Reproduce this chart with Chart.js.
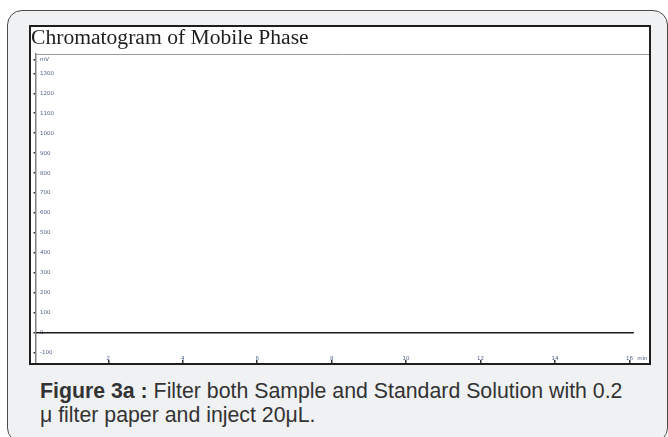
<!DOCTYPE html>
<html>
<head>
<meta charset="utf-8">
<script src="https://cdn.jsdelivr.net/npm/chart.js@4/dist/chart.umd.min.js"></script>
<style>
  html, body { margin: 0; padding: 0; background: #fff; width: 668px; height: 437px; overflow: hidden; }
  .card {
    position: absolute; left: 7px; top: 10px; width: 661px; height: 433px;
    box-sizing: border-box; border: 1.5px solid #4a4a4a; border-radius: 15px;
    background: #f0f1f3;
  }
  .frame {
    position: absolute; left: 29px; top: 25px; width: 622px; height: 340px;
    box-sizing: border-box; border: 2px solid #1e1e1e; background: #fff;
  }
  .frame canvas { display: block; }
  .caption {
    position: absolute; left: 40px; top: 379px;
    font: 21.3px "Liberation Sans", Arial, sans-serif; line-height: 24px; color: #333;
    white-space: nowrap;
  }
  .caption b { font-weight: bold; }
</style>
</head>
<body>
<div class="card"></div>
<div class="frame"><canvas id="chrom" width="618" height="336"></canvas></div>
<div class="caption"><b>Figure 3a :</b> Filter both Sample and Standard Solution with 0.2<br>μ filter paper and inject 20μL.</div>

<script>
// Retention time axis (min) and detector axis (mV)
const xTickValues = [2, 4, 6, 8, 10, 12, 14, 16];
const xUnit = { value: 16.35, label: 'min' };
const yTickValues = [-100, 0, 100, 200, 300, 400, 500, 600, 700, 800, 900, 1000, 1100, 1200, 1300];
const yUnit = { value: 1370, label: 'mV' };

// Mobile phase trace: flat baseline over the run
const retentionTime = [0.06, 16.12];
const signal = [0, 0];

const tickFont = { family: 'DejaVu Sans', size: 5.5 };
const tickColor = '#4f5f86';

// thin grey rule along the top of the plot area
const plotTopEdge = {
  id: 'plotTopEdge',
  afterDraw(chart) {
    const { ctx, chartArea: a } = chart;
    ctx.save();
    ctx.strokeStyle = '#9a9a9a';
    ctx.lineWidth = 1;
    ctx.beginPath();
    ctx.moveTo(a.left, Math.round(a.top) + 0.5);
    ctx.lineTo(chart.width, Math.round(a.top) + 0.5);
    ctx.stroke();
    ctx.restore();
  }
};

new Chart(document.getElementById('chrom'), {
  type: 'line',
  data: {
    datasets: [{
      data: retentionTime.map((t, i) => ({ x: t, y: signal[i] })),
      borderColor: '#1c1c1c',
      borderWidth: 1.6,
      pointRadius: 0,
      tension: 0,
      fill: false
    }]
  },
  options: {
    responsive: false,
    animation: false,
    devicePixelRatio: 1,
    layout: { padding: { top: 0, left: 0, right: 1, bottom: 0 } },
    plugins: {
      legend: { display: false },
      tooltip: { enabled: false },
      title: {
        display: true,
        text: 'Chromatogram of Mobile Phase',
        align: 'start',
        color: '#1f1f1f',
        font: { family: 'Liberation Serif', size: 21.6, weight: 'normal', lineHeight: 1.05 },
        padding: { top: 0, bottom: 4.3 }
      }
    },
    scales: {
      x: {
        type: 'linear',
        min: 0.057,
        max: 16.5,
        afterFit(scale) {
          scale.height = 0;
          scale.paddingLeft = 0; scale.paddingRight = 0;
          scale.paddingTop = 0; scale.paddingBottom = 0;
        },
        afterBuildTicks(scale) {
          scale.ticks = xTickValues.map(v => ({ value: v })).concat([{ value: xUnit.value }]);
        },
        ticks: {
          autoSkip: false,
          maxRotation: 0,
          mirror: true,
          padding: 1.6,
          font: tickFont,
          color: tickColor,
          callback: v => (v === xUnit.value ? xUnit.label : String(v))
        },
        grid: {
          drawOnChartArea: false,
          drawTicks: true,
          tickLength: -3,
          lineWidth: 1.5,
          color: c => (c.tick && c.tick.value === xUnit.value ? 'rgba(0,0,0,0)' : '#333')
        },
        border: { display: false }
      },
      y: {
        type: 'linear',
        min: -152,
        max: 1397,
        afterFit(scale) {
          scale.width = 5;
          scale.paddingTop = 0; scale.paddingBottom = 0;
          scale.paddingLeft = 0; scale.paddingRight = 0;
        },
        afterBuildTicks(scale) {
          scale.ticks = yTickValues.map(v => ({ value: v })).concat([{ value: yUnit.value }]);
        },
        ticks: {
          mirror: true,
          padding: 4,
          autoSkip: false,
          font: tickFont,
          color: tickColor,
          callback: v => (v === yUnit.value ? yUnit.label : String(v))
        },
        grid: {
          drawOnChartArea: false,
          drawTicks: true,
          tickLength: 2.5,
          lineWidth: 1.5,
          color: '#333'
        },
        border: { display: true, color: '#808080', width: 1.5 }
      }
    }
  },
  plugins: [plotTopEdge]
});
</script>
</body>
</html>
